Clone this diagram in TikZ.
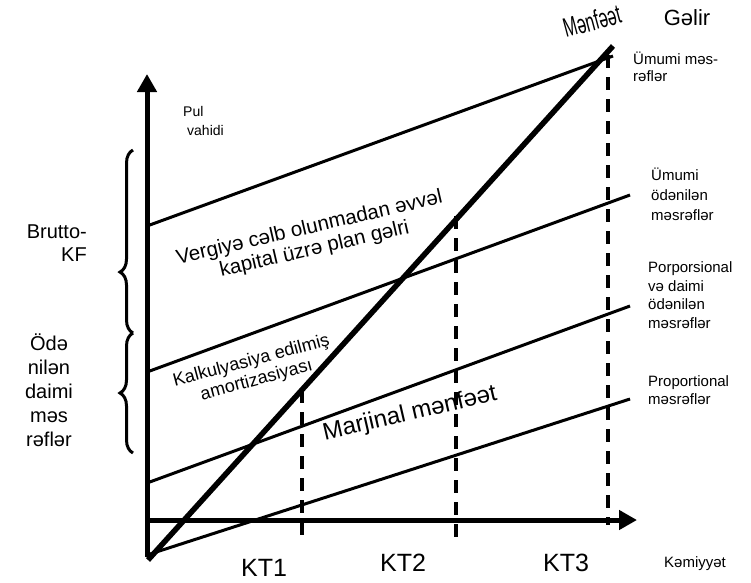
\documentclass[tikz,border=0pt]{standalone}
\usepackage{fontspec}
\setmainfont{Liberation Sans}
\newfontfamily\narrowsans[FakeStretch=0.6]{Liberation Sans}
\usetikzlibrary{decorations.pathreplacing,arrows.meta}

\newcommand{\fs}[2]{\fontsize{#1}{#2}\selectfont}

\begin{document}
\begin{tikzpicture}[x=1pt,y=-1pt,
  axisline/.style={line width=5pt,-{Triangle[length=18pt,width=19pt]}},
  costline/.style={line width=3pt},
  profitline/.style={line width=5.5pt},
  level/.style={line width=4pt,dash pattern=on 13pt off 9pt},
  bracket/.style={line width=3pt,decorate,decoration={brace,amplitude=13pt}},
  txt/.style={inner sep=0pt}
]
\useasboundingbox (0,0) rectangle (751,582);

% ---- labels set under the lines ----
\node[txt,align=center,rotate=13,font=\fs{20.5}{22}] (plan) at (312,239)
  {Vergiyə cəlb olunmadan əvvəl\\kapital üzrə plan gəlri};
\node[txt,align=center,rotate=15,font=\fs{18}{20}] (amort) at (254,371)
  {Kalkulyasiya edilmiş\\amortizasiyası};
\node[txt,rotate=13,font=\fs{24}{24}] (marj) at (410,414) {Marjinal mənfəət};

% ---- key points ----
\coordinate (o) at (147,557);
\coordinate (ytop) at (147,74);
\coordinate (xl) at (145,520);
\coordinate (xr) at (637,520);
\coordinate (p0) at (148,560);
\coordinate (p1) at (613,46);
\coordinate (a0) at (150,554);
\coordinate (a1) at (630,399);
\coordinate (b0) at (147,483);
\coordinate (b1) at (630,306);
\coordinate (c0) at (147,372);
\coordinate (c1) at (630,195);
\coordinate (d0) at (147,226);
\coordinate (d1) at (613,56);
\coordinate (k1t) at (302,390);
\coordinate (k1b) at (302,543);
\coordinate (k2t) at (456,216);
\coordinate (k2b) at (456,537);
\coordinate (k3t) at (608,55);
\coordinate (k3b) at (608,525);

% ---- cost lines ----
\draw[costline] (a0) -- (a1);
\draw[costline] (b0) -- (b1);
\draw[costline] (c0) -- (c1);
\draw[costline] (d0) -- (d1);

% ---- quantity levels ----
\draw[level] (k1t) -- (k1b);
\draw[level] (k2t) -- (k2b);
\draw[level] (k3t) -- (k3b);

% ---- axes ----
\draw[axisline] (o) -- (ytop);
\draw[axisline] (xl) -- (xr);

% ---- profit line ----
\draw[profitline] (p0) -- (p1);

% ---- braces on the money axis ----
\draw[bracket,decoration={aspect=0.333}] (133,333) -- (133,150);
\draw[bracket,decoration={aspect=0.5}] (133,453) -- (133,333);

% ---- texts ----
\node[txt,rotate=15,font=\narrowsans\fs{27}{27}] (mf) at (592,21) {Mənfəət};
\node[txt,font=\fs{22}{22}] (gelir) at (687,18) {Gəlir};
\node[txt,anchor=west,align=left,font=\fs{15}{17}] (ltot) at (633,67) {Ümumi məs-\\rəflər};
\node[txt,anchor=west,align=left,font=\fs{15}{20}] (lpaid) at (651,194) {Ümumi\\ödənilən\\məsrəflər};
\node[txt,anchor=west,align=left,font=\fs{15}{18.5}] (lmix) at (648,295) {Porporsional\\və daimi\\ödənilən\\məsrəflər};
\node[txt,anchor=west,align=left,font=\fs{15}{18}] (lprop) at (648,390) {Proportional\\məsrəflər};
\node[txt,anchor=north west,align=left,font=\fs{14}{19}] (pul) at (183,106) {Pul\\\hspace*{4pt}vahidi};
\node[txt,anchor=east,align=right,font=\fs{20}{23}] (brutto) at (87,243) {Brutto-\\KF};
\node[txt,align=center,font=\fs{20}{24}] (odenilen) at (49,390) {Ödə\\nilən\\daimi\\məs\\rəflər};
\node[txt,font=\fs{25}{25}] (kt1) at (264,568) {KT1};
\node[txt,font=\fs{25}{25}] (kt2) at (403,563) {KT2};
\node[txt,font=\fs{25}{25}] (kt3) at (566,563) {KT3};
\node[txt,font=\fs{15}{15}] (qty) at (695,564) {Kəmiyyət};
\end{tikzpicture}
\end{document}
